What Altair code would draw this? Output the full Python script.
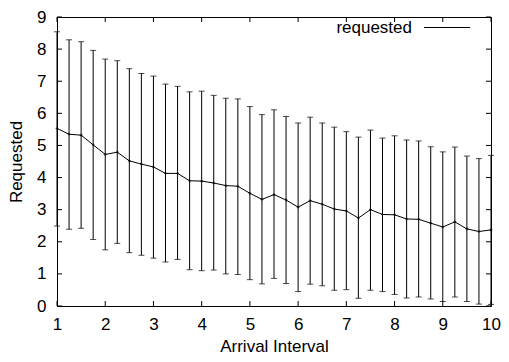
import altair as alt
import pandas as pd

# ---- data ----
arrival = [1, 1.25, 1.5, 1.75, 2, 2.25, 2.5, 2.75, 3, 3.25, 3.5, 3.75, 4, 4.25, 4.5, 4.75,
           5, 5.25, 5.5, 5.75, 6, 6.25, 6.5, 6.75, 7, 7.25, 7.5, 7.75, 8, 8.25, 8.5, 8.75,
           9, 9.25, 9.5, 9.75, 10]
requested = [5.53, 5.35, 5.32, 5.02, 4.72, 4.79, 4.52, 4.42, 4.33, 4.13, 4.13, 3.90, 3.89,
             3.83, 3.75, 3.73, 3.51, 3.32, 3.47, 3.30, 3.08, 3.28, 3.17, 3.02, 2.96, 2.74,
             3.00, 2.85, 2.84, 2.71, 2.70, 2.58, 2.46, 2.62, 2.40, 2.32, 2.37]
upper = [8.54, 8.29, 8.23, 7.96, 7.69, 7.64, 7.39, 7.24, 7.16, 6.91, 6.84, 6.67, 6.69,
         6.56, 6.47, 6.45, 6.21, 5.96, 6.11, 5.90, 5.70, 5.88, 5.70, 5.57, 5.43, 5.26,
         5.48, 5.23, 5.30, 5.17, 5.14, 4.96, 4.80, 4.95, 4.67, 4.59, 4.69]
lower = [2.49, 2.39, 2.42, 2.07, 1.75, 1.95, 1.66, 1.58, 1.49, 1.37, 1.45, 1.13, 1.10,
         1.12, 1.00, 0.98, 0.82, 0.69, 0.86, 0.70, 0.45, 0.68, 0.63, 0.49, 0.51, 0.24,
         0.49, 0.45, 0.36, 0.25, 0.28, 0.22, 0.14, 0.28, 0.14, 0.06, 0.05]
x_ticks = [1, 2, 3, 4, 5, 6, 7, 8, 9, 10]
y_ticks = [0, 1, 2, 3, 4, 5, 6, 7, 8, 9]
legend_label = ["requested"]
x_title = "Arrival Interval"
y_title = "Requested"

FONT = "Liberation Sans"
W, H = 434, 289
FS = 17

df = pd.DataFrame({"x": arrival, "mean": requested, "hi": upper, "lo": lower})
xt = pd.DataFrame({"t": x_ticks})
yt = pd.DataFrame({"t": y_ticks})
leg = pd.DataFrame({"label": legend_label})

xs = alt.Scale(domain=[1, 10], nice=False, zero=False)
ys = alt.Scale(domain=[0, 9], nice=False, zero=False)

x_axis = alt.Axis(values=x_ticks, title=x_title, grid=False, ticks=False, tickSize=0,
                  domain=False, labelFont=FONT, labelFontSize=FS, labelColor="black",
                  labelPadding=10, labelFlush=False, labelOverlap=False,
                  titleFont=FONT, titleFontSize=FS, titleFontWeight="normal",
                  titleColor="black", titlePadding=6, format="d")
y_axis = alt.Axis(values=y_ticks, title=y_title, grid=False, ticks=False, tickSize=0,
                  domain=False, labelFont=FONT, labelFontSize=FS, labelColor="black",
                  labelPadding=11, labelFlush=False, labelOverlap=False,
                  titleFont=FONT, titleFontSize=FS, titleFontWeight="normal",
                  titleColor="black", titlePadding=11, format="d")


def X(field):
    return alt.X(field, scale=xs, axis=x_axis)


def Y(field):
    return alt.Y(field, scale=ys, axis=y_axis)


base = alt.Chart(df)

bars = base.mark_rule(color="black", strokeWidth=1).encode(
    x=X("x:Q"), y=Y("lo:Q"), y2="hi:Q")
cap_hi = base.mark_tick(color="black", orient="horizontal", size=6, thickness=1).encode(
    x=X("x:Q"), y=Y("hi:Q"))
cap_lo = base.mark_tick(color="black", orient="horizontal", size=6, thickness=1).encode(
    x=X("x:Q"), y=Y("lo:Q"))
line = base.mark_line(color="black", strokeWidth=1).encode(
    x=X("x:Q"), y=Y("mean:Q"))
pts = base.mark_point(color="black", shape="cross", size=8, filled=True).encode(
    x=X("x:Q"), y=Y("mean:Q"))

TL = 5
xt_bottom = alt.Chart(xt).mark_rule(color="black", strokeWidth=1).encode(
    x=X("t:Q"), y=alt.value(H), y2=alt.value(H - TL))
xt_top = alt.Chart(xt).mark_rule(color="black", strokeWidth=1).encode(
    x=X("t:Q"), y=alt.value(0), y2=alt.value(TL))
yt_left = alt.Chart(yt).mark_rule(color="black", strokeWidth=1).encode(
    y=Y("t:Q"), x=alt.value(0), x2=alt.value(TL))
yt_right = alt.Chart(yt).mark_rule(color="black", strokeWidth=1).encode(
    y=Y("t:Q"), x=alt.value(W), x2=alt.value(W - TL))

leg_text = alt.Chart(leg).mark_text(font=FONT, fontSize=FS, align="right",
                                    baseline="alphabetic", color="black").encode(
    text="label:N", x=alt.value(W - 79), y=alt.value(16))
leg_line = alt.Chart(leg).mark_rule(color="black", strokeWidth=1).encode(
    x=alt.value(W - 67), x2=alt.value(W - 21), y=alt.value(10.5))

chart = alt.layer(
    bars, cap_hi, cap_lo, line, pts,
    xt_bottom, xt_top, yt_left, yt_right,
    leg_text, leg_line,
).properties(
    width=W, height=H,
    autosize=alt.AutoSizeParams(type="none"),
    padding={"left": 49, "top": 9, "right": 10, "bottom": 48},
    background="white",
).configure_view(
    stroke="black", strokeWidth=1
)

chart.save("out.html", embed_options={"renderer": "svg", "actions": False})
